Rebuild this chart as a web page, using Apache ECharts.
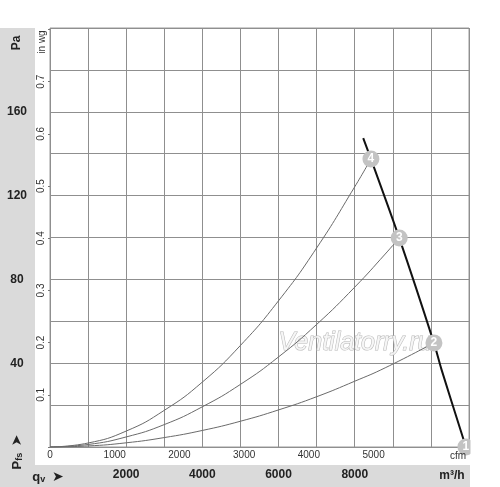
<!DOCTYPE html>
<html>
<head>
<meta charset="utf-8">
<script src="https://cdn.jsdelivr.net/npm/echarts@6/dist/echarts.min.js"></script>
<style>
html,body{margin:0;padding:0;background:#fff;}
#chart{width:500px;height:487px;}
</style>
</head>
<body>
<div id="chart"></div>
<script>
// Airflow in m³/h, pressure in Pa
const curve4Q = [0, 1000, 2000, 3000, 4000, 5000, 6000, 7000, 8000, 8425];
const curve4P = [0, 1.9, 7.6, 17.5, 31.0, 48.5, 69.8, 95.0, 124.2, 137.5];
const curve3Q = [0, 1000, 2000, 3000, 4000, 5000, 6000, 7000, 8000, 8800, 9168];
const curve3P = [0, 1.2, 4.8, 10.7, 19.2, 29.9, 43.0, 58.5, 76.3, 92.1, 99.8];
const curve2Q = [0, 1000, 2000, 3000, 4000, 5000, 6000, 7000, 8000, 8800, 10079];
const curve2P = [0, 0.5, 2.0, 4.5, 7.9, 12.3, 17.7, 24.0, 31.4, 37.8, 49.7];
const fanQ = [8223, 8425, 9168, 10079, 10281, 10919];
const fanP = [147.4, 137.5, 99.8, 49.7, 36.8, 0];
const pointQ = [10919, 10079, 9168, 8425];
const pointP = [0, 49.7, 99.8, 137.5];
const pointLabels = ['1', '2', '3', '4'];
const paTicks = [40, 80, 120, 160];
const m3hTicks = [2000, 4000, 6000, 8000];
const cfmTicks = [0, 1000, 2000, 3000, 4000, 5000];
const inwgTicks = [0.1, 0.2, 0.3, 0.4, 0.5, 0.6, 0.7];

const Q_MAX = 11000;
const P_MAX = 200;
const CFM_PER_M3H = 0.588578;
const INWG_PER_PA = 1 / 249.0889;

const zip = (a, b) => a.map((v, i) => [v, b[i]]);
const font = "'Liberation Sans', Arial, 'DejaVu Sans', sans-serif";
const near = (v, arr, eps) => arr.some(t => Math.abs(t - v) < eps);

const chart = echarts.init(document.getElementById('chart'));
chart.setOption({
  animation: false,
  backgroundColor: '#fff',
  grid: { left: 50, top: 28, width: 419, height: 419, show: true, borderColor: '#9a9a9a', borderWidth: 1, containLabel: false },
  xAxis: [
    {
      type: 'value', min: 0, max: Q_MAX, interval: 1000, position: 'bottom',
      axisLine: { show: false }, axisTick: { show: false },
      splitLine: { show: true, lineStyle: { color: '#8f8f8f', width: 1 } },
      axisLabel: {
        margin: 22, fontFamily: font, fontSize: 12, fontWeight: 'bold', color: '#222',
        formatter: v => near(v, m3hTicks, 1) ? String(v) : ''
      }
    },
    {
      type: 'value', min: 0, max: Q_MAX * CFM_PER_M3H, interval: 1000, position: 'bottom', offset: 0,
      axisLine: { show: false }, axisTick: { show: false }, splitLine: { show: false },
      axisLabel: {
        margin: 3, fontFamily: font, fontSize: 10, color: '#333',
        showMaxLabel: false,
        formatter: v => near(v, cfmTicks, 1) ? String(v) : ''
      }
    }
  ],
  yAxis: [
    {
      type: 'value', min: 0, max: P_MAX, interval: 20, position: 'left',
      axisLine: { show: false }, axisTick: { show: false },
      splitLine: { show: true, lineStyle: { color: '#8f8f8f', width: 1 } },
      axisLabel: {
        margin: 33, align: 'center', fontFamily: font, fontSize: 12, fontWeight: 'bold', color: '#222',
        formatter: v => near(v, paTicks, 0.5) ? String(v) : ''
      }
    },
    {
      type: 'value', min: 0, max: P_MAX * INWG_PER_PA, interval: 0.1, position: 'left', offset: 0,
      axisLine: { show: false },
      axisTick: { show: true, length: 2, lineStyle: { color: '#777' } },
      splitLine: { show: false },
      axisLabel: {
        margin: 4, rotate: 90, fontFamily: font, fontSize: 10, color: '#333',
        showMaxLabel: false,
        formatter: v => near(v, inwgTicks, 0.001) ? v.toFixed(1) : ''
      }
    }
  ],
  series: [
    { type: 'line', data: zip(curve4Q, curve4P), smooth: true, showSymbol: false, lineStyle: { color: '#6a6a6a', width: 1 }, z: 3 },
    { type: 'line', data: zip(curve3Q, curve3P), smooth: true, showSymbol: false, lineStyle: { color: '#6a6a6a', width: 1 }, z: 3 },
    { type: 'line', data: zip(curve2Q, curve2P), smooth: true, showSymbol: false, lineStyle: { color: '#6a6a6a', width: 1 }, z: 3 },
    { type: 'line', data: zip(fanQ, fanP), smooth: 0.3, showSymbol: false, clip: false, lineStyle: { color: '#111', width: 2 }, z: 4 },
    {
      type: 'scatter', data: zip(pointQ, pointP), symbolSize: 17, clip: false, z: 5,
      itemStyle: { color: '#c3c3c3', opacity: 1 },
      label: {
        show: true, position: 'inside', fontFamily: font, fontSize: 12, fontWeight: 'bold', color: '#fff',
        formatter: p => pointLabels[p.dataIndex]
      }
    }
  ],
  graphic: [
    { type: 'rect', shape: { x: 0, y: 28, width: 35, height: 459 }, style: { fill: '#dadada' }, z: -10, silent: true },
    { type: 'rect', shape: { x: 0, y: 465, width: 470, height: 22 }, style: { fill: '#dadada' }, z: -10, silent: true },
    { type: 'rect', shape: { x: 470.5, y: 0, width: 30, height: 487 }, style: { fill: '#fff' }, z: 100, silent: true },
    {
      type: 'text', x: 17, y: 43, rotation: Math.PI / 2, z: 10,
      style: { text: 'Pa', font: "bold 12px " + font, fill: '#222', align: 'center', verticalAlign: 'middle' }
    },
    {
      type: 'text', x: 42, y: 42, rotation: Math.PI / 2, z: 10,
      style: { text: 'in wg', font: "10px " + font, fill: '#333', align: 'center', verticalAlign: 'middle' }
    },
    {
      type: 'text', x: 17, y: 452, rotation: Math.PI / 2, z: 10,
      style: {
        text: '{b|P}{s|fs}  {a|➤}', align: 'center', verticalAlign: 'middle',
        rich: {
          b: { font: "bold 13px " + font, fill: '#222' },
          s: { font: "bold 9px " + font, fill: '#222', padding: [5, 0, 0, 0] },
          a: { font: "14px 'DejaVu Sans', sans-serif", fill: '#222' }
        }
      }
    },
    {
      type: 'text', x: 48, y: 477, z: 10,
      style: {
        text: '{b|q}{s|v}  {a|➤}', align: 'center', verticalAlign: 'middle',
        rich: {
          b: { font: "bold 13px " + font, fill: '#222' },
          s: { font: "bold 9px " + font, fill: '#222', padding: [5, 0, 0, 0] },
          a: { font: "14px 'DejaVu Sans', sans-serif", fill: '#222' }
        }
      }
    },
    {
      type: 'text', x: 452, y: 476, z: 10,
      style: { text: 'm³/h', font: "bold 12px " + font, fill: '#222', align: 'center', verticalAlign: 'middle' }
    },
    {
      type: 'text', x: 458, y: 456, z: 10,
      style: { text: 'cfm', font: "10px " + font, fill: '#333', align: 'center', verticalAlign: 'middle' }
    },
    {
      type: 'text', x: 355, y: 343, z: 1,
      style: {
        text: 'Ventilatorry.ru', font: "italic 25px " + font,
        fill: 'rgba(246,246,246,0.9)', stroke: '#b8b8b8', lineWidth: 1,
        align: 'center', verticalAlign: 'middle'
      }
    }
  ]
});
</script>
</body>
</html>
